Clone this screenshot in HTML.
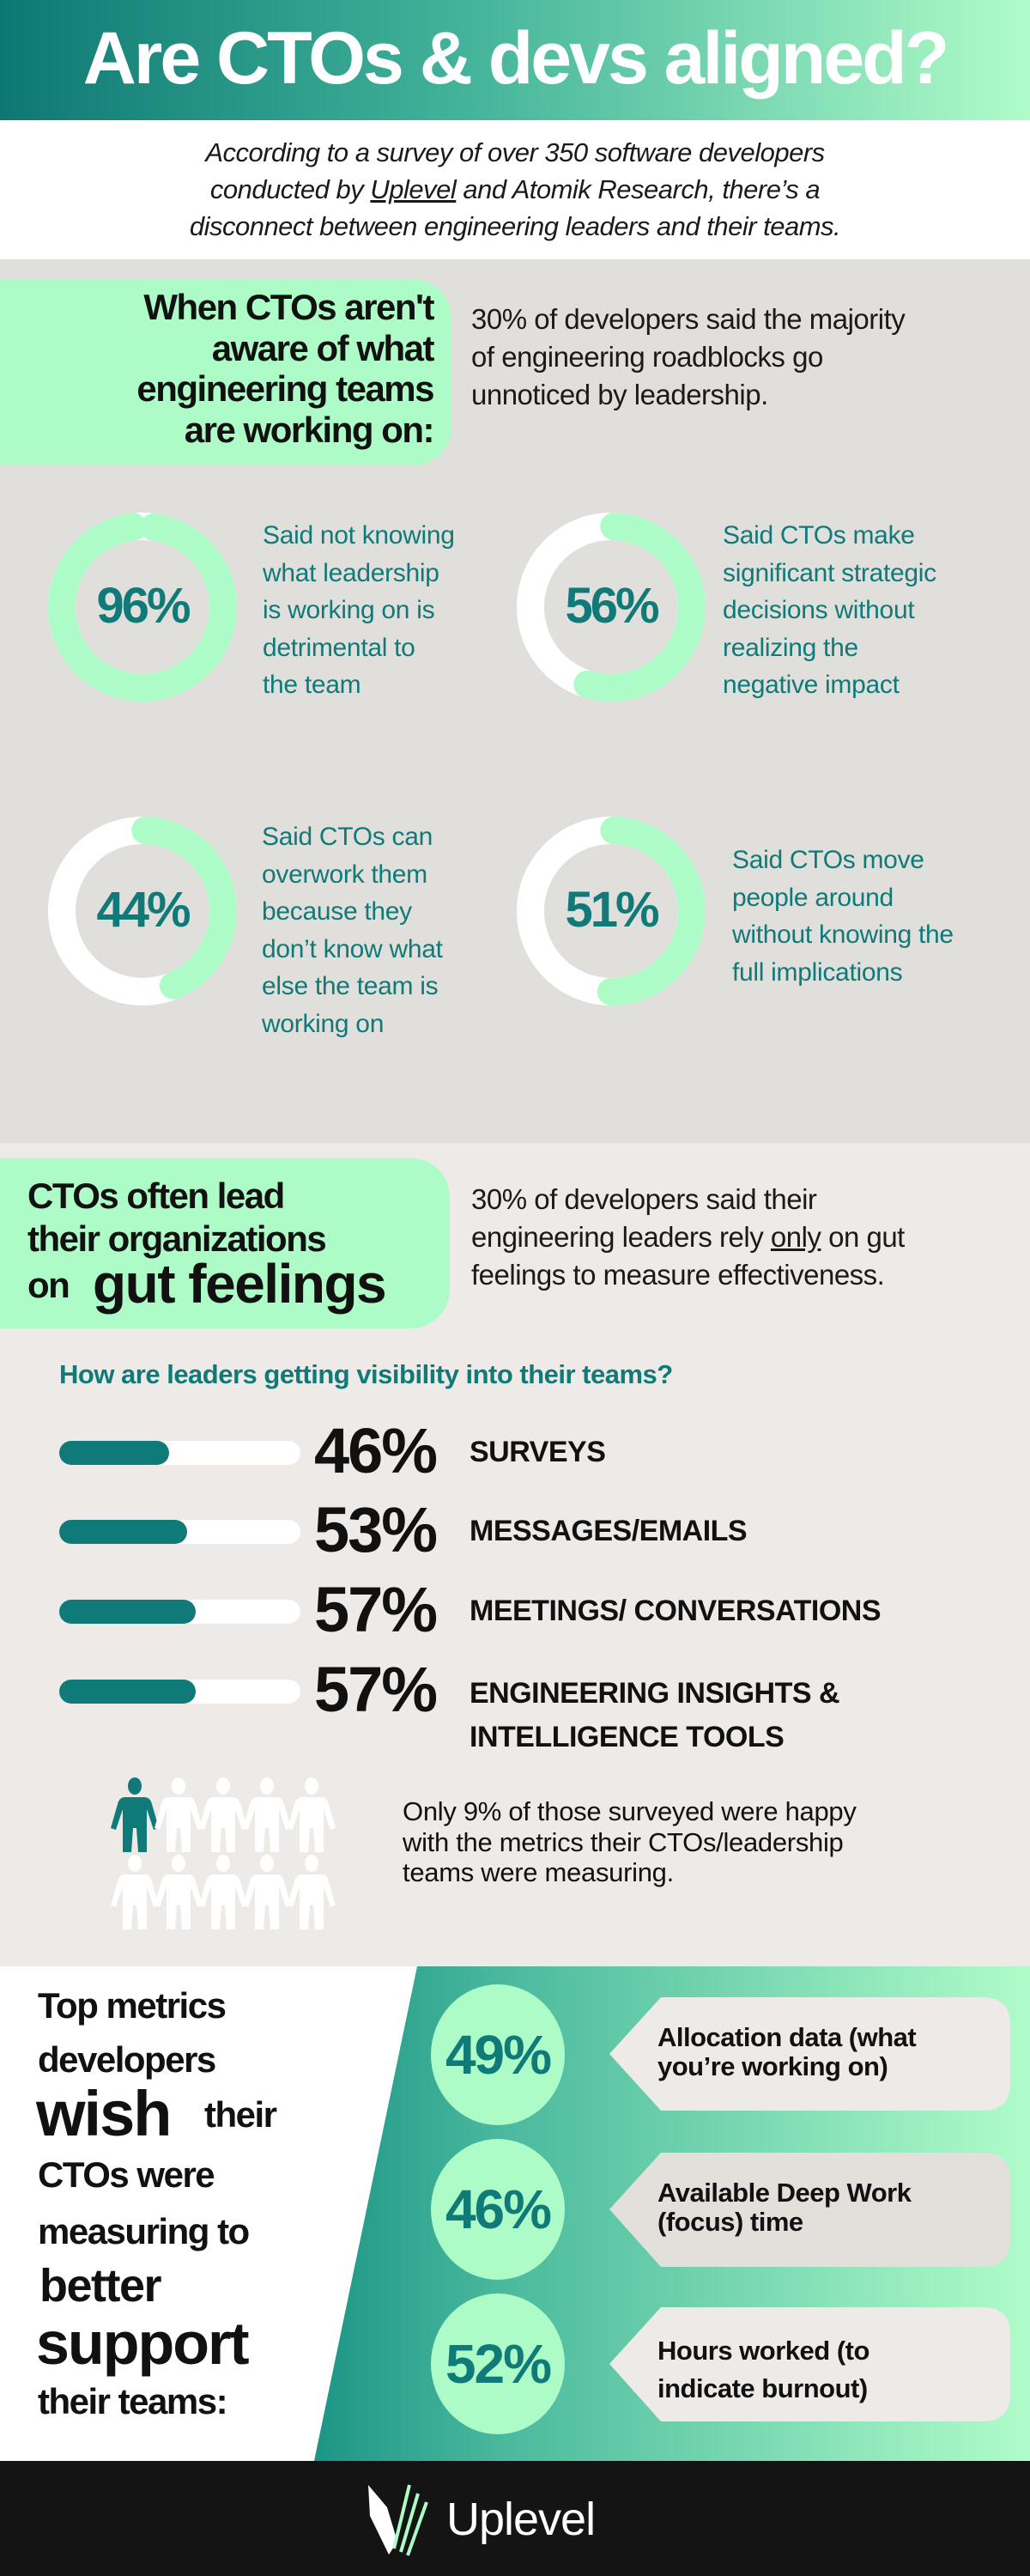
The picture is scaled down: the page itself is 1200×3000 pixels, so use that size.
<!DOCTYPE html>
<html><head><meta charset="utf-8">
<style>
*{margin:0;padding:0;box-sizing:border-box}
body{width:1200px;height:3000px;position:relative;overflow:hidden;font-family:"Liberation Sans",sans-serif;background:#fff}
.a{position:absolute;white-space:nowrap}
.b{font-weight:bold}
.teal{color:#0f7a78}
.cond{letter-spacing:-1.5px}
</style></head><body>
<!-- header -->
<div class="a" style="left:0;top:0;width:1200px;height:140px;background:linear-gradient(90deg,#0d7873 0%,#43b39a 45%,#b0fcc9 100%)"></div>
<div class="a b" style="left:0;top:18px;width:1200px;text-align:center;font-size:86px;line-height:100px;color:#fff;letter-spacing:-3px">Are CTOs &amp; devs aligned?</div>
<!-- intro -->
<div class="a" style="left:0;top:156px;width:1200px;text-align:center;font-size:31px;line-height:43px;font-style:italic;color:#1a1a1a;letter-spacing:-0.5px">According to a survey of over 350 software developers<br>conducted by <u>Uplevel</u> and Atomik Research, there’s a<br>disconnect between engineering leaders and their teams.</div>
<!-- section 1 -->
<div class="a" style="left:0;top:302px;width:1200px;height:1029px;background:#e1dfdb"></div>
<div class="a" style="left:-40px;top:325px;width:566px;height:217px;background:#adfbc6;border-radius:0 45px 45px 0"></div>
<div class="a b cond" style="left:0;top:334px;width:505px;text-align:right;font-size:42px;line-height:47.5px;color:#111">When CTOs aren't<br>aware of what<br>engineering teams<br>are working on:</div>
<div class="a" style="left:549px;top:350px;font-size:33px;line-height:44px;color:#1a1a1a;letter-spacing:-0.5px">30% of developers said the majority<br>of engineering roadblocks go<br>unnoticed by leadership.</div>

<svg class="a" style="left:0;top:0" width="1200" height="1330">
 <g fill="none" stroke-width="32">
  <circle cx="166" cy="707" r="94" stroke="#fff"/>
  <circle cx="166" cy="707" r="94" stroke="#adfbc6" stroke-dasharray="567 1000" transform="rotate(-82 166 707)" stroke-linecap="round"/>
  <circle cx="712" cy="707" r="94" stroke="#fff"/>
  <circle cx="712" cy="707" r="94" stroke="#adfbc6" stroke-dasharray="320 1000" transform="rotate(-88 712 707)" stroke-linecap="round"/>
  <circle cx="166" cy="1061" r="94" stroke="#fff"/>
  <circle cx="166" cy="1061" r="94" stroke="#adfbc6" stroke-dasharray="255 1000" transform="rotate(-88 166 1061)" stroke-linecap="round"/>
  <circle cx="712" cy="1061" r="94" stroke="#fff"/>
  <circle cx="712" cy="1061" r="94" stroke="#adfbc6" stroke-dasharray="292 1000" transform="rotate(-88 712 1061)" stroke-linecap="round"/>
 </g>
</svg>
<div class="a b teal cond" style="left:86px;top:672px;width:160px;text-align:center;font-size:58px;line-height:68px;letter-spacing:-3px">96%</div>
<div class="a b teal cond" style="left:632px;top:672px;width:160px;text-align:center;font-size:58px;line-height:68px;letter-spacing:-3px">56%</div>
<div class="a b teal cond" style="left:86px;top:1026px;width:160px;text-align:center;font-size:58px;line-height:68px;letter-spacing:-3px">44%</div>
<div class="a b teal cond" style="left:632px;top:1026px;width:160px;text-align:center;font-size:58px;line-height:68px;letter-spacing:-3px">51%</div>
<div class="a teal" style="left:306px;top:602px;font-size:30px;line-height:43.5px;letter-spacing:-0.3px">Said not knowing<br>what leadership<br>is working on is<br>detrimental to<br>the team</div>
<div class="a teal" style="left:842px;top:602px;font-size:30px;line-height:43.5px;letter-spacing:-0.3px">Said CTOs make<br>significant strategic<br>decisions without<br>realizing the<br>negative impact</div>
<div class="a teal" style="left:305px;top:953px;font-size:30px;line-height:43.5px;letter-spacing:-0.3px">Said CTOs can<br>overwork them<br>because they<br>don’t know what<br>else the team is<br>working on</div>
<div class="a teal" style="left:853px;top:980px;font-size:30px;line-height:43.5px;letter-spacing:-0.3px">Said CTOs move<br>people around<br>without knowing the<br>full implications</div>

<!-- section 2 -->
<div class="a" style="left:0;top:1331px;width:1200px;height:960px;background:#edeae7"></div>
<div class="a" style="left:-40px;top:1349px;width:564px;height:198px;background:#adfbc6;border-radius:0 45px 45px 0"></div>
<div class="a b cond" style="left:32px;top:1368px;font-size:42px;line-height:50px;color:#111">CTOs often lead<br>their organizations</div>
<div class="a b cond" style="left:32px;top:1472px;font-size:42px;line-height:50px;color:#111">on</div>
<div class="a b cond" style="left:108px;top:1460px;font-size:64px;line-height:70px;color:#111">gut feelings</div>
<div class="a" style="left:549px;top:1375px;font-size:33px;line-height:44px;color:#1a1a1a;letter-spacing:-0.5px">30% of developers said their<br>engineering leaders rely <u>only</u> on gut<br>feelings to measure effectiveness.</div>
<div class="a b teal" style="left:69px;top:1582px;font-size:31px;line-height:38px;letter-spacing:-0.5px">How are leaders getting visibility into their teams?</div>

<div class="a" style="left:69px;top:1678px;width:281px;height:28px;background:#fff;border-radius:14px"></div>
<div class="a" style="left:69px;top:1678px;width:128px;height:28px;background:#0f7a78;border-radius:14px"></div>
<div class="a" style="left:69px;top:1770px;width:281px;height:28px;background:#fff;border-radius:14px"></div>
<div class="a" style="left:69px;top:1770px;width:149px;height:28px;background:#0f7a78;border-radius:14px"></div>
<div class="a" style="left:69px;top:1863px;width:281px;height:28px;background:#fff;border-radius:14px"></div>
<div class="a" style="left:69px;top:1863px;width:159px;height:28px;background:#0f7a78;border-radius:14px"></div>
<div class="a" style="left:69px;top:1956px;width:281px;height:28px;background:#fff;border-radius:14px"></div>
<div class="a" style="left:69px;top:1956px;width:159px;height:28px;background:#0f7a78;border-radius:14px"></div>

<div class="a b" style="left:366px;top:1650px;font-size:74px;line-height:80px;color:#111;letter-spacing:-2px">46%</div>
<div class="a b" style="left:366px;top:1742px;font-size:74px;line-height:80px;color:#111;letter-spacing:-2px">53%</div>
<div class="a b" style="left:366px;top:1835px;font-size:74px;line-height:80px;color:#111;letter-spacing:-2px">57%</div>
<div class="a b" style="left:366px;top:1928px;font-size:74px;line-height:80px;color:#111;letter-spacing:-2px">57%</div>
<div class="a b" style="left:547px;top:1671px;font-size:34px;line-height:40px;color:#111;letter-spacing:-0.5px">SURVEYS</div>
<div class="a b" style="left:547px;top:1763px;font-size:34px;line-height:40px;color:#111;letter-spacing:-0.5px">MESSAGES/EMAILS</div>
<div class="a b" style="left:547px;top:1856px;font-size:34px;line-height:40px;color:#111;letter-spacing:-0.5px">MEETINGS/ CONVERSATIONS</div>
<div class="a b" style="left:547px;top:1947px;font-size:34px;line-height:51px;color:#111;letter-spacing:-0.5px">ENGINEERING INSIGHTS &amp;<br>INTELLIGENCE TOOLS</div>

<svg class="a" style="left:0;top:0" width="1200" height="2300">
 <defs>
  <g id="p">
   <ellipse cx="0" cy="9" rx="8" ry="10"/>
   <path d="M-11 22 H11 Q18 22 20 30 L28 58 L22 60 L14 36 L14 86 L4 86 L2 58 L-2 58 L-4 86 L-14 86 L-14 36 L-22 60 L-28 58 L-20 30 Q-18 22 -11 22 Z"/>
  </g>
 </defs>
 <g fill="#0f7a78"><use href="#p" x="157" y="2071"/></g>
 <g fill="#fff">
  <use href="#p" x="208" y="2071"/><use href="#p" x="260" y="2071"/><use href="#p" x="311" y="2071"/><use href="#p" x="363" y="2071"/>
  <use href="#p" x="157" y="2161"/><use href="#p" x="208" y="2161"/><use href="#p" x="260" y="2161"/><use href="#p" x="311" y="2161"/><use href="#p" x="363" y="2161"/>
 </g>
</svg>
<div class="a" style="left:469px;top:2092px;font-size:31px;line-height:35.5px;color:#111;letter-spacing:-0.3px">Only 9% of those surveyed were happy<br>with the metrics their CTOs/leadership<br>teams were measuring.</div>

<!-- section 3 -->
<div class="a" style="left:0;top:2290px;width:1200px;height:576px;background:linear-gradient(90deg,#0f8a7f 25%,#4dbb9f 50%,#b0fcc9 100%)"></div>
<svg class="a" style="left:0;top:2290px" width="500" height="576"><polygon points="0,0 486,0 366,576 0,576" fill="#fff"/></svg>
<div class="a b cond" style="left:44px;top:2304px;font-size:42px;line-height:63px;color:#111">Top metrics<br>developers</div>
<div class="a b" style="left:42px;top:2422px;font-size:74px;line-height:80px;color:#111;letter-spacing:-2px">wish</div>
<div class="a b cond" style="left:238px;top:2438px;font-size:42px;line-height:50px;color:#111">their</div>
<div class="a b cond" style="left:44px;top:2500px;font-size:42px;line-height:66px;color:#111">CTOs were<br>measuring to</div>
<div class="a b" style="left:46px;top:2630px;font-size:54px;line-height:64px;color:#111;letter-spacing:-1.5px">better</div>
<div class="a b" style="left:42px;top:2690px;font-size:70px;line-height:78px;color:#111;letter-spacing:-2px">support</div>
<div class="a b cond" style="left:44px;top:2772px;font-size:42px;line-height:50px;color:#111">their teams:</div>

<svg class="a" style="left:0;top:0" width="1200" height="2870">
 <g fill="#adfbc6">
  <ellipse cx="580" cy="2393" rx="78" ry="82"/>
  <ellipse cx="580" cy="2573" rx="78" ry="82"/>
  <ellipse cx="580" cy="2753" rx="78" ry="82"/>
 </g>
 <g fill="#edeae7">
  <path d="M770 2326 H1145 Q1177 2326 1177 2358 V2426 Q1177 2458 1145 2458 H770 L710 2392 Z"/>
  <path d="M770 2507 H1145 Q1177 2507 1177 2539 V2608 Q1177 2640 1145 2640 H770 L710 2573 Z" fill="#e3e0dc"/>
  <path d="M770 2687 H1145 Q1177 2687 1177 2719 V2788 Q1177 2820 1145 2820 H770 L710 2753 Z"/>
 </g>
</svg>
<div class="a b teal cond" style="left:495px;top:2358px;width:170px;text-align:center;font-size:64px;line-height:70px;letter-spacing:-2px">49%</div>
<div class="a b teal cond" style="left:495px;top:2538px;width:170px;text-align:center;font-size:64px;line-height:70px;letter-spacing:-2px">46%</div>
<div class="a b teal cond" style="left:495px;top:2718px;width:170px;text-align:center;font-size:64px;line-height:70px;letter-spacing:-2px">52%</div>
<div class="a b" style="left:766px;top:2356px;font-size:31px;line-height:34px;color:#111;letter-spacing:-0.5px">Allocation data (what<br>you’re working on)</div>
<div class="a b" style="left:766px;top:2537px;font-size:31px;line-height:34px;color:#111;letter-spacing:-0.5px">Available Deep Work<br>(focus) time</div>
<div class="a b" style="left:766px;top:2716px;font-size:31px;line-height:44px;color:#111;letter-spacing:-0.5px">Hours worked (to<br>indicate burnout)</div>

<!-- footer -->
<div class="a" style="left:0;top:2866px;width:1200px;height:134px;background:#141414"></div>
<svg class="a" style="left:425px;top:2890px" width="80" height="90">
 <path d="M4 4 L26 30 L38 70 L28 85 L6 40 Z" fill="#fff"/>
 <path d="M52 4 L34 78" stroke="#adfbc6" stroke-width="4"/>
 <path d="M62 14 L42 82" stroke="#adfbc6" stroke-width="4"/>
 <path d="M72 24 L50 86" stroke="#adfbc6" stroke-width="4"/>
</svg>
<div class="a" style="left:520px;top:2902px;font-size:54px;line-height:64px;color:#fff;letter-spacing:-1px">Uplevel</div>
</body></html>
